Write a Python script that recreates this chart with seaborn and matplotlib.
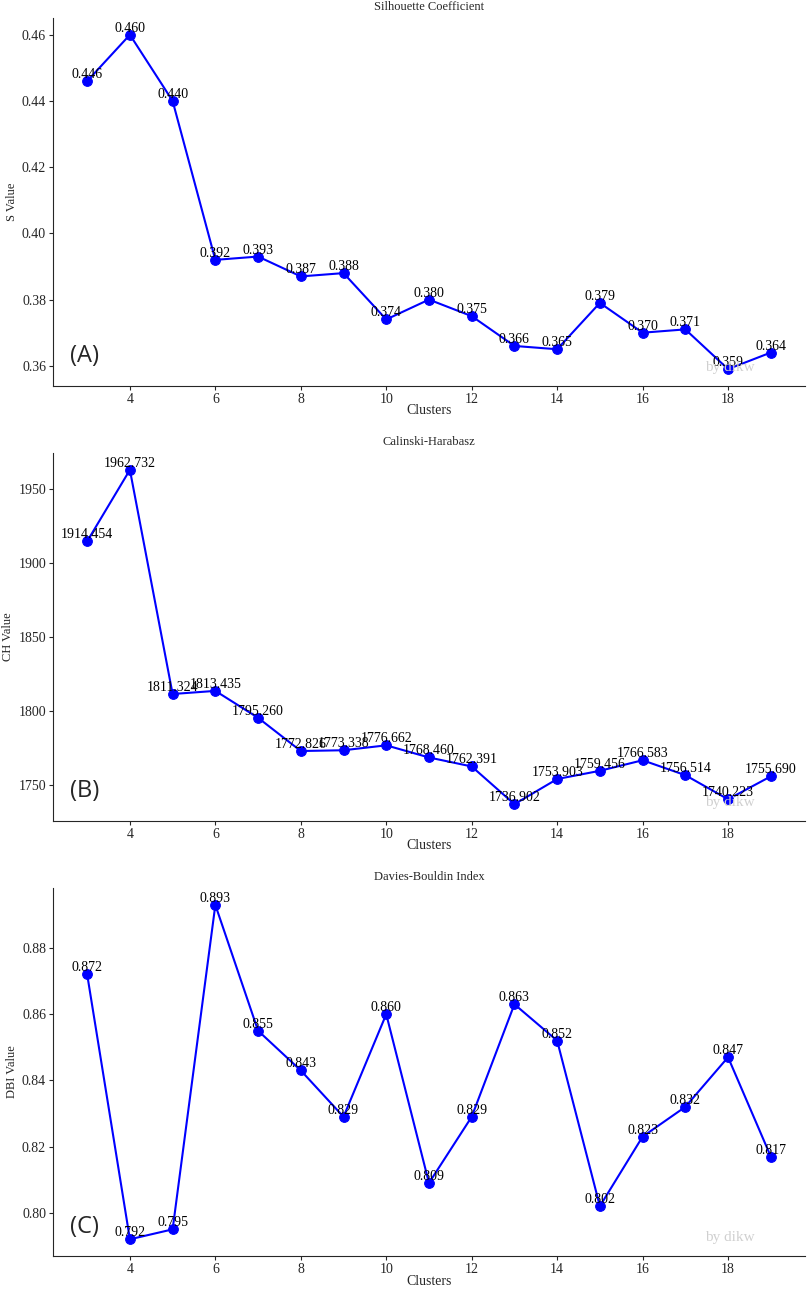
import matplotlib
matplotlib.use("Agg")
import matplotlib.pyplot as plt
import seaborn as sns
import pandas as pd

clusters = list(range(3, 20))
s_values = [0.446, 0.460, 0.440, 0.392, 0.393, 0.387, 0.388, 0.374, 0.380,
            0.375, 0.366, 0.365, 0.379, 0.370, 0.371, 0.359, 0.364]
ch_values = [1914.454, 1962.732, 1811.324, 1813.435, 1795.260, 1772.826,
             1773.338, 1776.662, 1768.460, 1762.391, 1736.902, 1753.903,
             1759.456, 1766.583, 1756.514, 1740.223, 1755.690]
dbi_values = [0.872, 0.792, 0.795, 0.893, 0.855, 0.843, 0.829, 0.860, 0.809,
              0.829, 0.863, 0.852, 0.802, 0.823, 0.832, 0.847, 0.817]

titles = ["Silhouette Coefficient", "Calinski-Harabasz", "Davies-Bouldin Index"]
ylabels = ["S Value", "CH Value", "DBI Value"]
letters = ["(A)", "(B)", "(C)"]
yticks = [[0.36, 0.38, 0.40, 0.42, 0.44, 0.46],
          [1750, 1800, 1850, 1900, 1950],
          [0.80, 0.82, 0.84, 0.86, 0.88]]
tick_fmt = ["{:.2f}", "{:.0f}", "{:.2f}"]

sns.set_style("white")
plt.rcParams['font.family'] = ['Liberation Serif', 'DejaVu Serif']

fig, axes = plt.subplots(3, 1, figsize=(8.09, 12.89), dpi=100)
fig.subplots_adjust(left=0.0655, right=0.995, top=0.986, bottom=0.0256, hspace=0.183)

for ax, vals, title, ylab, letter, yt, fmt in zip(axes, [s_values, ch_values, dbi_values],
                                                  titles, ylabels, letters, yticks, tick_fmt):
    df = pd.DataFrame({"Clusters": clusters, "value": vals})
    sns.lineplot(data=df, x="Clusters", y="value", ax=ax, color="blue", marker="o",
                 markersize=7, markeredgecolor="blue", linewidth=1.5)
    for x, y in zip(clusters, vals):
        ax.text(x, y, "{:.3f}".format(y), ha="center", va="bottom", fontsize=10,
                color="black")
    ax.set_title(title, fontsize=9, pad=6)
    ax.set_ylabel(ylab, fontsize=9, labelpad=3)
    ax.set_xlabel("Clusters", fontsize=10, labelpad=-1)
    ax.set_xticks(range(4, 20, 2))
    ax.set_yticks(yt)
    ax.set_yticklabels([fmt.format(t) for t in yt])
    ax.tick_params(axis="both", labelsize=10, length=3, pad=2, left=True, bottom=True)
    ax.text(0.022, 0.08, letter, transform=ax.transAxes, fontsize=17,
            family=["Open Sans", "DejaVu Sans"], va="center", ha="left")
    ax.text(0.90, 0.05, "by dikw", transform=ax.transAxes, fontsize=11,
            color="#d0d0d0", ha="center", va="center")
    sns.despine(ax=ax)

fig.savefig("out.png", dpi=100)
